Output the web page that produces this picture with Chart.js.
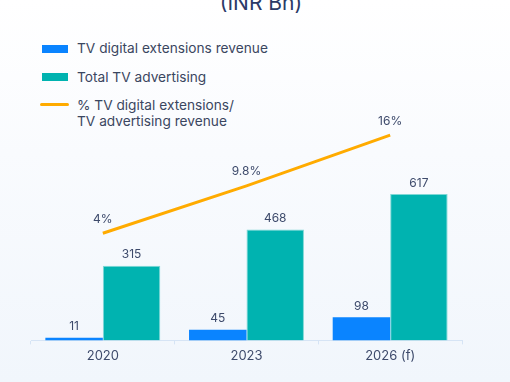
<!DOCTYPE html>
<html>
<head>
<meta charset="utf-8">
<script src="https://cdn.jsdelivr.net/npm/chart.js@4.4.1/dist/chart.umd.min.js"></script>
<style>
  html, body { margin:0; padding:0; }
  body { width:510px; height:382px; overflow:hidden; position:relative;
         background: linear-gradient(to bottom, #ffffff 0%, #f9fbfe 40%, #f1f6fc 100%);
         font-family: Inter, "Open Sans", sans-serif; color:#3a4660; }
  #title { position:absolute; left:0; width:522px; text-align:center; top:-9px;
           font-size:21px; line-height:24px; color:#2b3a67; font-weight:400; }
  .lg { position:absolute; left:77px; font-size:13.7px; line-height:16px; color:#3a4660; }
  .sw { position:absolute; }
  #wrap { position:absolute; left:0; top:0; width:510px; height:382px; }
</style>
</head>
<body>
<div id="title">(INR Bn)</div>
<div class="sw" style="left:42px;top:45px;width:26px;height:8px;background:#0a84ff"></div>
<div class="lg" style="top:40px">TV digital extensions revenue</div>
<div class="sw" style="left:42px;top:73px;width:26px;height:8px;background:#00b3b0"></div>
<div class="lg" style="top:69px">Total TV advertising</div>
<div class="sw" style="left:40px;top:102.5px;width:29px;height:3px;background:#ffab00;border-radius:2px"></div>
<div class="lg" style="top:97px">% TV digital extensions/<br>TV advertising revenue</div>
<div id="wrap"><canvas id="c" width="510" height="382"></canvas></div>
<script>
const categories = ["2020", "2023", "2026 (f)"];
const digitalRevenue = [11, 45, 98];
const totalTvAdvertising = [315, 468, 617];
const digitalShare = [4, 9.8, 16];
const digitalShareLabels = ["4%", "9.8%", "16%"];

const labelPlugin = {
  id: 'valueLabels',
  afterDatasetsDraw(chart) {
    const ctx = chart.ctx;
    ctx.save();
    ctx.font = '12px Inter, "Open Sans", sans-serif';
    ctx.fillStyle = '#3d4a6b';
    ctx.textAlign = 'center';
    ctx.textBaseline = 'middle';
    chart.data.datasets.forEach((ds, di) => {
      const meta = chart.getDatasetMeta(di);
      meta.data.forEach((el, i) => {
        let txt, y;
        if (ds.type === 'line') {
          txt = digitalShareLabels[i];
          y = el.y - 14;
        } else {
          txt = String(ds.data[i]);
          y = el.y - 11;
        }
        ctx.fillText(txt, el.x, y);
      });
    });
    ctx.restore();
  }
};

new Chart(document.getElementById('c'), {
  data: {
    labels: categories,
    datasets: [
      { type: 'line', label: '% TV digital extensions/ TV advertising revenue', data: digitalShare,
        yAxisID: 'y2', borderColor: '#ffab00', borderWidth: 3, pointRadius: 0, tension: 0, order: 0 },
      { type: 'bar', label: 'TV digital extensions revenue', data: digitalRevenue,
        backgroundColor: '#0a84ff', yAxisID: 'y', categoryPercentage: 0.8, barPercentage: 1.0, order: 1 },
      { type: 'bar', label: 'Total TV advertising', data: totalTvAdvertising,
        backgroundColor: '#00b3b0', borderColor: '#7fd8d6', borderWidth: {top:1,left:1,right:1,bottom:0},
        yAxisID: 'y', categoryPercentage: 0.8, barPercentage: 1.0, order: 1 }
    ]
  },
  options: {
    responsive: false,
    animation: false,
    devicePixelRatio: 1,
    layout: { padding: { left: 31, right: 48, top: 100, bottom: 14 } },
    plugins: { legend: { display: false }, tooltip: { enabled: false } },
    scales: {
      x: {
        grid: { display: true, drawOnChartArea: false, color: '#d6e4f5', tickLength: 4, offset: true },
        border: { color: '#d6e4f5', width: 1 },
        ticks: { color: '#3d4a6b', font: { size: 13, family: 'Inter, "Open Sans", sans-serif' }, padding: 4 }
      },
      y: { display: false, min: 0, max: 1014 },
      y2: { display: false, min: -9.1, max: 20.3 }
    }
  },
  plugins: [labelPlugin]
});
</script>
</body>
</html>
